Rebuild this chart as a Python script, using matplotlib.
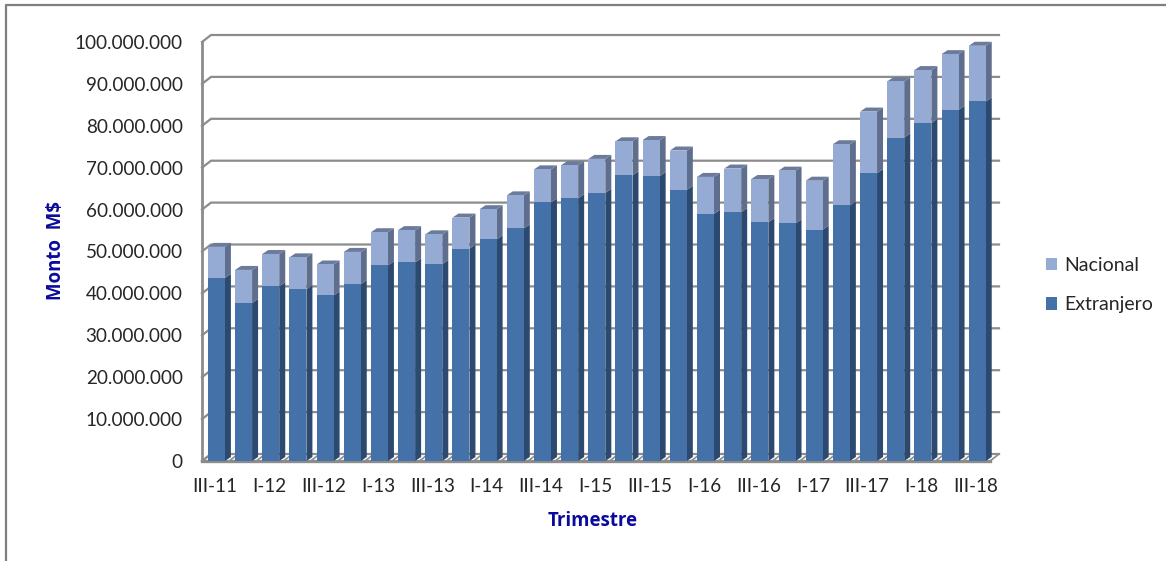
import matplotlib
matplotlib.use("Agg")
import matplotlib.pyplot as plt
from matplotlib.patches import Polygon, Rectangle
from matplotlib.lines import Line2D

plt.rcParams['font.family'] = ['Lato', 'DejaVu Sans']

quarters = ["III-11","IV-11","I-12","II-12","III-12","IV-12","I-13","II-13","III-13","IV-13",
            "I-14","II-14","III-14","IV-14","I-15","II-15","III-15","IV-15","I-16","II-16",
            "III-16","IV-16","I-17","II-17","III-17","IV-17","I-18","II-18","III-18"]
extranjero = [43.7,37.7,41.7,41.0,39.5,42.2,46.7,47.4,47.0,50.7,52.9,55.5,61.7,62.7,64.0,
              68.2,68.0,64.7,59.0,59.4,57.0,56.7,55.2,61.0,68.7,77.2,80.7,83.8,85.8]
total = [51.1,45.6,49.4,48.6,46.9,49.9,54.6,55.1,54.1,58.1,60.1,63.4,69.6,70.6,72.1,
         76.3,76.6,74.1,67.8,69.8,67.3,69.3,66.9,75.6,83.4,90.6,93.3,97.1,99.1]
nacional = [t - e for t, e in zip(total, extranjero)]
yticks = [0,10,20,30,40,50,60,70,80,90,100]
ylabels = ["0"] + [f"{v}.000.000" for v in yticks[1:-1]] + ["100.000.000"]

W, H = 1166, 561
fig = plt.figure(figsize=(W/100, H/100), dpi=100)
L, R, T, B = 202, 990, 42, 461
ax = fig.add_axes([L/W, 1-B/H, (R-L)/W, (B-T)/H])
n = len(quarters)
ax.set_xlim(0, n); ax.set_ylim(0, 100)
for s in ax.spines.values():
    s.set_visible(False)

GRID = '#8c8c8c'
px = n/(R-L); py = 100/(B-T)
wdx, wdy = 9*px, 7*py      # wall depth
bdx, bdy = 6*px, 4*py      # bar depth
width = 17*px

# back wall grid
for v in yticks:
    ax.plot([0, wdx, n+wdx], [v, v+wdy, v+wdy], color=GRID, lw=1.6, zorder=1, clip_on=False,
            solid_joinstyle='miter')
# floor
for i in range(n+1):
    ax.plot([i, i+wdx], [0, wdy], color=GRID, lw=1.2, zorder=1, clip_on=False)
ax.plot([0, 0], [0, 100], color=GRID, lw=2, zorder=1, clip_on=False)
ax.plot([0, n], [0, 0], color=GRID, lw=2.4, zorder=1, clip_on=False)

# bars
xs = [i+0.53 for i in range(n)]
C_E, C_E_S = '#4471a8', '#2c4a70'
C_N, C_N_S, C_N_T = '#95abd3', '#5e6e8c', '#6b7b9c'
ax.bar(xs, extranjero, width=width, color=C_E, zorder=3, label='Extranjero')
ax.bar(xs, nacional, bottom=extranjero, width=width, color=C_N, zorder=3, label='Nacional')
for x, e, t in zip(xs, extranjero, total):
    r = x+width/2; l = x-width/2
    ax.add_patch(Polygon([(r,0),(r+bdx,bdy),(r+bdx,e+bdy),(r,e)], fc=C_E_S, ec='none', zorder=2.5, clip_on=False))
    ax.add_patch(Polygon([(r,e),(r+bdx,e+bdy),(r+bdx,t+bdy),(r,t)], fc=C_N_S, ec='none', zorder=2.5, clip_on=False))
    ax.add_patch(Polygon([(l,t),(r,t),(r+bdx,t+bdy),(l+bdx,t+bdy)], fc=C_N_T, ec='none', zorder=2.5, clip_on=False))

# ticks
ax.set_xticks([x-0.05 for x in xs[::2]])
ax.set_xticklabels(quarters[::2], fontsize=13.6, color='#262626')
ax.set_yticks(yticks)
ax.set_yticklabels(ylabels, fontsize=13.6, color='#262626')
ax.tick_params(axis='x', length=0, pad=12)
ax.tick_params(axis='y', length=0, pad=14)

TITLE = '#0a0a9c'
fig.text(56/W, 1-251/H, "Monto  M$", rotation=90, ha='center', va='center',
         fontsize=13.4, fontweight='bold', color=TITLE, family='Open Sans')
fig.text(593/W, 1-521/H, "Trimestre", ha='center', va='center',
         fontsize=13.4, fontweight='bold', color=TITLE, family='Open Sans')

# legend
handles, labels = ax.get_legend_handles_labels()
fig.legend(handles[::-1], labels[::-1], loc='center left', bbox_to_anchor=(1028/W, 1-285/H),
           frameon=False, fontsize=14, labelcolor='#262626', handlelength=0.6, handleheight=0.6,
           handletextpad=0.35, labelspacing=1.15)

# outer frame
fig.add_artist(Line2D([6/W, 6/W, 1], [0, 1-5/H, 1-5/H], color='#7f7f7f', lw=1.6))

fig.savefig("out.png", dpi=100)
